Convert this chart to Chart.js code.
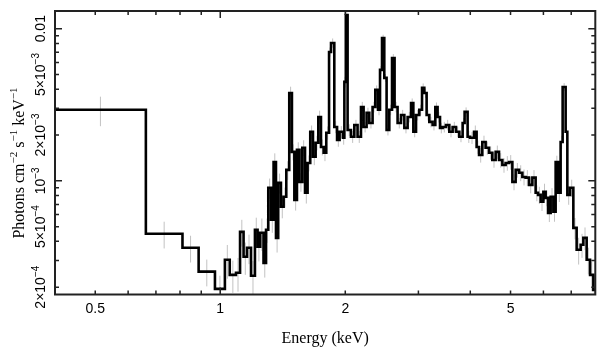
<!DOCTYPE html>
<html><head><meta charset="utf-8">
<script src="https://cdn.jsdelivr.net/npm/chart.js@4.4.1/dist/chart.umd.min.js"></script>
<style>html,body{margin:0;padding:0;background:#fff}#wrap{width:608px;height:357px;position:relative}</style>
</head><body><div id="wrap"><canvas id="c"></canvas></div>
<script>
// Bin lower edges (keV); last bin runs to energyHi
const energyLo = [0.4,0.662,0.811,0.887,0.971,1.026,1.054,1.091,1.116,1.138,
1.160,1.186,1.212,1.230,1.248,1.271,1.289,1.305,1.325,1.344,
1.362,1.379,1.400,1.421,1.442,1.466,1.488,1.508,1.530,1.552,
1.576,1.600,1.623,1.647,1.672,1.697,1.722,1.748,1.774,1.800,
1.828,1.848,1.882,1.911,1.938,1.975,1.990,2.006,2.026,2.064,
2.103,2.141,2.182,2.214,2.251,2.285,2.327,2.362,2.398,2.425,
2.452,2.483,2.515,2.553,2.592,2.629,2.673,2.724,2.775,2.826,
2.880,2.917,2.961,3.015,3.061,3.100,3.140,3.187,3.246,3.295,
3.337,3.382,3.431,3.496,3.561,3.627,3.696,3.764,3.834,3.876,
3.941,3.994,4.084,4.143,4.199,4.276,4.355,4.438,4.520,4.604,
4.691,4.778,4.866,4.959,5.051,5.144,5.242,5.339,5.437,5.541,
5.643,5.747,5.824,5.909,5.998,6.075,6.156,6.246,6.340,6.421,
6.507,6.601,6.675,6.787,6.851,6.955,7.083,7.214,7.376,7.487,
7.626,7.771,7.914];
const energyHi = 8.0;
// Photons cm^-2 s^-1 keV^-1
const flux = [2.93e-3,4.49e-4,3.63e-4,2.53e-4,1.95e-4,3.03e-4,2.41e-4,2.49e-4,4.62e-4,3.17e-4,
3.63e-4,2.38e-4,4.77e-4,3.69e-4,4.56e-4,2.89e-4,4.77e-4,9.00e-4,5.55e-4,1.33e-3,
4.22e-4,9.70e-4,6.75e-4,7.85e-4,1.18e-3,3.78e-3,1.55e-3,7.50e-4,1.60e-3,9.85e-4,
1.65e-3,8.34e-4,1.31e-3,2.10e-3,1.44e-3,1.78e-3,2.63e-3,1.67e-3,1.53e-3,2.07e-3,
7.03e-3,8.06e-3,2.26e-3,1.86e-3,2.10e-3,1.92e-3,4.47e-3,1.23e-2,2.16e-3,1.95e-3,
2.33e-3,1.95e-3,3.06e-3,2.26e-3,2.80e-3,2.40e-3,3.06e-3,3.96e-3,2.93e-3,5.36e-3,
8.69e-3,4.75e-3,2.16e-3,2.93e-3,6.42e-3,3.06e-3,2.40e-3,2.71e-3,2.23e-3,2.63e-3,
3.25e-3,2.10e-3,2.71e-3,2.93e-3,4.08e-3,3.78e-3,2.71e-3,2.44e-3,2.33e-3,3.06e-3,
2.63e-3,2.23e-3,2.26e-3,2.33e-3,2.10e-3,2.26e-3,2.10e-3,1.95e-3,2.40e-3,2.84e-3,
1.95e-3,1.92e-3,2.10e-3,1.67e-3,1.48e-3,1.80e-3,1.65e-3,1.53e-3,1.37e-3,1.55e-3,
1.37e-3,1.27e-3,1.31e-3,1.33e-3,9.85e-4,1.18e-3,1.13e-3,1.06e-3,1.05e-3,9.41e-4,
1.05e-3,8.34e-4,8.09e-4,7.28e-4,8.47e-4,7.73e-4,6.16e-4,7.85e-4,6.26e-4,1.33e-3,
8.34e-4,1.80e-3,4.14e-3,2.10e-3,8.09e-4,9.00e-4,4.91e-4,3.52e-4,3.80e-4,4.22e-4,
3.03e-4,2.41e-4,1.92e-4];
// relative 1-sigma errors
const relErr = [0.22,0.2,0.2,0.2,0.22,
0.25,0.24,0.25,0.2,0.24,0.22,0.25,0.2,0.2,0.24,0.2,0.18,
0.15,0.18,0.14,0.2,0.15,0.16,0.15,0.14,0.1,0.12,0.15,0.12,0.14,0.12,0.15,0.12,0.1,0.12,0.11,0.1,0.12,0.12,0.1,
0.07,0.07,0.09,0.1,0.09,0.1,0.08,0.05,
0.09,0.09,0.08,0.09,0.08,0.08,0.08,0.08,0.08,0.07,0.08,0.06,0.05,0.06,0.08,0.08,0.06,0.08,0.08,0.08,
0.08,0.08,0.07,0.08,0.08,0.08,0.07,0.07,0.08,0.08,0.08,0.07,0.08,0.08,0.08,0.08,0.08,0.08,0.08,0.08,
0.08,0.07,0.09,0.09,
0.1,0.1,0.11,0.1,0.1,0.1,0.11,0.1,0.11,0.11,0.11,0.11,0.12,0.11,0.12,0.12,0.12,0.12,0.12,0.12,
0.13,0.13,0.13,0.12,0.13,0.14,0.14,
0.1,0.13,0.1,0.06,0.08,0.14,0.13,0.16,0.2,0.18,0.17,0.2,0.22,0.25];

const xRange = [0.4, 8.0];
const yRange = [1.79e-4, 1.307e-2];
const xTickValues = [0.5, 1, 2, 5];
const xTickLabels = ['0.5', '1', '2', '5'];
const xMinorTicks = [0.6, 0.7, 0.8, 0.9, 3, 4, 6, 7];
const xDecadeTicks = [1];
const yTickValues = [2e-4, 5e-4, 1e-3, 2e-3, 5e-3, 1e-2];
const yTickLabels = [[['2×10',0],['−4',1]], [['5×10',0],['−4',1]], [['10',0],['−3',1]],
                     [['2×10',0],['−3',1]], [['5×10',0],['−3',1]], [['0.01',0]]];
const yMinorTicks = [3e-4,4e-4,6e-4,7e-4,8e-4,9e-4,3e-3,4e-3,6e-3,7e-3,8e-3,9e-3];
const yDecadeTicks = [1e-3, 1e-2];
const xTitle = 'Energy (keV)';
const yTitle = [['Photons cm',0],['−2',1],[' s',0],['−1',1],[' keV',0],['−1',1]];

const linePts = energyLo.map((e, i) => ({x: e, y: flux[i]}));
linePts.push({x: energyHi, y: flux[flux.length - 1]});
const errPts = [];
energyLo.forEach((e, i) => {
  const hi = i + 1 < energyLo.length ? energyLo[i + 1] : energyHi;
  const c = Math.sqrt(e * hi);
  errPts.push({x: c, y: flux[i] * (1 - relErr[i])});
  errPts.push({x: c, y: flux[i] * (1 + relErr[i])});
  errPts.push({x: c, y: null});
});

function drawRich(ctx, segs, cx, cy, size, family, rot) {
  ctx.save();
  ctx.translate(cx, cy);
  if (rot) ctx.rotate(-Math.PI / 2);
  const supSize = Math.round(size * 0.7);
  let total = 0;
  const widths = segs.map(([t, s]) => {
    ctx.font = (s ? supSize : size) + 'px ' + family;
    const w = ctx.measureText(t).width; total += w; return w;
  });
  let xx = -total / 2;
  const base = size * 0.36;
  ctx.textAlign = 'left'; ctx.textBaseline = 'alphabetic';
  segs.forEach(([t, s], i) => {
    ctx.font = (s ? supSize : size) + 'px ' + family;
    ctx.fillText(t, xx, s ? base - size * 0.42 : base);
    xx += widths[i];
  });
  ctx.restore();
}

const axesPlugin = {
  id: 'axesPlugin',
  afterDatasetsDraw(chart) {
    const {ctx, chartArea: a, scales: {x, y}} = chart;
    ctx.save();
    ctx.strokeStyle = '#222';
    ctx.lineWidth = 1.5;
    const xt = xTickValues.concat(xMinorTicks);
    xt.forEach(v => {
      const px = x.getPixelForValue(v);
      const len = xDecadeTicks.includes(v) ? 7 : 4;
      ctx.beginPath();
      ctx.moveTo(px, a.bottom); ctx.lineTo(px, a.bottom - len);
      ctx.moveTo(px, a.top); ctx.lineTo(px, a.top + len);
      ctx.stroke();
    });
    const yt = yTickValues.concat(yMinorTicks);
    yt.forEach(v => {
      const py = y.getPixelForValue(v);
      const len = yDecadeTicks.includes(v) ? 7 : 4;
      ctx.beginPath();
      ctx.moveTo(a.left, py); ctx.lineTo(a.left + len, py);
      ctx.moveTo(a.right, py); ctx.lineTo(a.right - len, py);
      ctx.stroke();
    });
    ctx.lineWidth = 2;
    ctx.strokeRect(a.left, a.top, a.right - a.left, a.bottom - a.top);

    ctx.fillStyle = '#000';
    ctx.font = '14px "Liberation Sans", Arial, sans-serif';
    ctx.textAlign = 'center'; ctx.textBaseline = 'middle';
    xTickValues.forEach((v, i) => {
      ctx.fillText(xTickLabels[i], x.getPixelForValue(v), a.bottom + 15);
    });
    ctx.font = '16px "Liberation Serif", "Times New Roman", serif';
    ctx.fillText(xTitle, (a.left + a.right) / 2, 339);
    yTickValues.forEach((v, i) => {
      drawRich(ctx, yTickLabels[i], 40, y.getPixelForValue(v), 14, '"Liberation Sans", Arial, sans-serif', true);
    });
    drawRich(ctx, yTitle, 18, 163, 16, '"Liberation Serif", "Times New Roman", serif', true);
    ctx.restore();
  }
};

new Chart(document.getElementById('c'), {
  type: 'line',
  data: {datasets: [
    {data: linePts, stepped: 'before', borderColor: '#000', borderWidth: 2.6, pointRadius: 0, fill: false, order: 1},
    {data: errPts, borderColor: '#c2c2c2', borderWidth: 1, pointRadius: 0, fill: false, spanGaps: false, order: 2}
  ]},
  options: {
    responsive: true, maintainAspectRatio: false, devicePixelRatio: 1, animation: false,
    layout: {padding: {left: 55, top: 11, right: 12.7, bottom: 62.5}},
    plugins: {legend: {display: false}, tooltip: {enabled: false}},
    scales: {
      x: {type: 'logarithmic', min: xRange[0], max: xRange[1], display: false},
      y: {type: 'logarithmic', min: yRange[0], max: yRange[1], display: false}
    }
  },
  plugins: [axesPlugin]
});
</script>
</body></html>
